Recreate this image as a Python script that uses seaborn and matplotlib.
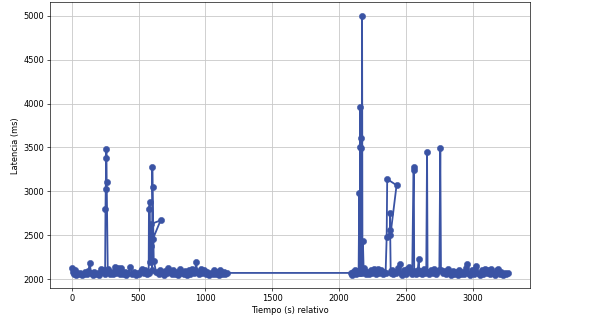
import matplotlib
matplotlib.use("Agg")
import matplotlib.pyplot as plt
import seaborn as sns
import pandas as pd

# Segment 1 (0 - 1165 s)
t1 = [0, 8, 15, 22, 30, 40, 52, 65, 78, 90, 102, 115, 125, 135, 145, 158, 170, 182,
      195, 208, 220, 232, 240, 250, 253, 255, 258, 260, 262, 270, 275, 285, 298, 310,
      322, 335, 348, 360, 372, 385, 398, 410, 422, 440, 452, 465, 478, 490, 502, 515,
      528, 540, 552, 563, 572, 576, 578, 584, 588, 592, 596, 665, 608, 602, 603, 605,
      614, 632, 650, 662, 675, 688, 700, 712, 722, 735, 748, 760, 772, 785, 798, 812, 825,
      838, 850, 862, 875, 888, 900, 912, 925, 930, 940, 952, 965, 978, 990, 1002, 1015,
      1028, 1040, 1055, 1065, 1078, 1090, 1102, 1112, 1125, 1138, 1150, 1163]
v1 = [2125, 2085, 2055, 2100, 2050, 2075, 2055, 2070, 2048, 2065, 2085, 2058, 2090, 2185,
      2070, 2052, 2080, 2058, 2075, 2050, 2115, 2080, 2110, 2060, 2800, 3030, 3380, 3480,
      3110, 2090, 2115, 2065, 2085, 2058, 2140, 2075, 2125, 2062, 2130, 2058, 2080, 2052,
      2070, 2140, 2062, 2085, 2052, 2075, 2058, 2090, 2115, 2068, 2105, 2058, 2080, 2070,
      2800, 2880, 2200, 2380, 2630, 2670, 2460, 2100, 3280, 3050,
      2210, 2080, 2065, 2100, 2075,
      2052, 2090, 2070, 2130, 2080, 2058, 2100, 2062, 2085, 2052, 2120, 2070, 2058, 2090,
      2052, 2110, 2065, 2120, 2075, 2100, 2195, 2080, 2058, 2115, 2070, 2105, 2058, 2085,
      2052, 2075, 2058, 2110, 2065, 2085, 2052, 2105, 2065, 2080, 2060, 2072]

# Segment 2 (2090 - 3265 s)
t2 = [2088, 2096, 2106, 2116, 2126, 2136, 2146, 2151, 2154, 2158, 2160, 2162, 2164,
      2166, 2168, 2172, 2175, 2178, 2184, 2190, 2200, 2212, 2225, 2238, 2250, 2262,
      2275, 2288, 2300, 2312, 2325, 2338, 2348, 2356, 2360, 2430, 2384, 2380, 2382,
      2386, 2392, 2398, 2406, 2415, 2428, 2442, 2455, 2460, 2472, 2485, 2497, 2510,
      2522, 2535, 2547, 2557, 2559, 2562, 2575, 2588, 2596, 2600, 2608, 2620, 2632,
      2642, 2652, 2658, 2662, 2675, 2688, 2700, 2712, 2725, 2738, 2750, 2757, 2762,
      2775, 2788, 2800, 2812, 2825, 2838, 2850, 2862, 2875, 2888, 2900, 2912, 2925,
      2938, 2950, 2958, 2968, 2980, 2993, 3006, 3020, 3027, 3040, 3053, 3066, 3078,
      3090, 3103, 3116, 3128, 3140, 3153, 3166, 3178, 3190, 3200, 3213, 3226, 3240,
      3250, 3265]
v2 = [2072, 2050, 2080, 2110, 2058, 2090, 2070, 2980, 2075, 3960, 3500, 2090, 3610,
      3490, 2080, 5000, 2075, 2440, 2100, 2125, 2065, 2085, 2055, 2100, 2070, 2115,
      2058, 2120, 2075, 2100, 2058, 2085, 2070, 2480, 3140, 3070, 2500, 2750, 2560,
      2090, 2070, 2105, 2058, 2085, 2070, 2125, 2170, 2075, 2052, 2100, 2065, 2115,
      2145, 2080, 2065, 3280, 3245, 2090, 2065, 2100, 2230, 2070, 2095, 2058, 2120,
      2075, 2085, 3450, 2080, 2058, 2100, 2070, 2115, 2058, 2090, 2110, 3490, 2110,
      2070, 2095, 2058, 2120, 2075, 2052, 2090, 2065, 2080, 2050, 2110, 2065, 2085,
      2058, 2125, 2170, 2075, 2052, 2100, 2065, 2115, 2150, 2070, 2052, 2100, 2065,
      2115, 2075, 2110, 2058, 2115, 2070, 2052, 2100, 2120, 2065, 2085, 2052, 2070,
      2060, 2072]

xticks = [0, 500, 1000, 1500, 2000, 2500, 3000]
yticks = [2000, 2500, 3000, 3500, 4000, 4500, 5000]

df = pd.DataFrame({"t": t1 + t2, "lat": v1 + v2})

plt.rcParams["font.family"] = ["DejaVu Sans"]
fig = plt.figure(figsize=(10, 329 / 59.2), dpi=59.2)
ax = fig.add_axes([50 / 592, 1 - 288.3 / 329, 480 / 592, 286 / 329])

sns.lineplot(data=df, x="t", y="lat", sort=False, estimator=None, marker="o",
             color="#3A53A4", linewidth=2.2, markersize=7.6,
             markeredgecolor="#3A53A4", markeredgewidth=0.6, ax=ax)

ax.set_xlim(-162, 3428)
ax.set_ylim(1897, 5152)
ax.set_xticks(xticks)
ax.set_yticks(yticks)
ax.grid(True, color="#c8c8c8", linewidth=1.0)
ax.set_axisbelow(True)
ax.set_xlabel("Tiempo (s) relativo")
ax.set_ylabel("Latencia (ms)")

fig.savefig("out.png", dpi=59.2)
